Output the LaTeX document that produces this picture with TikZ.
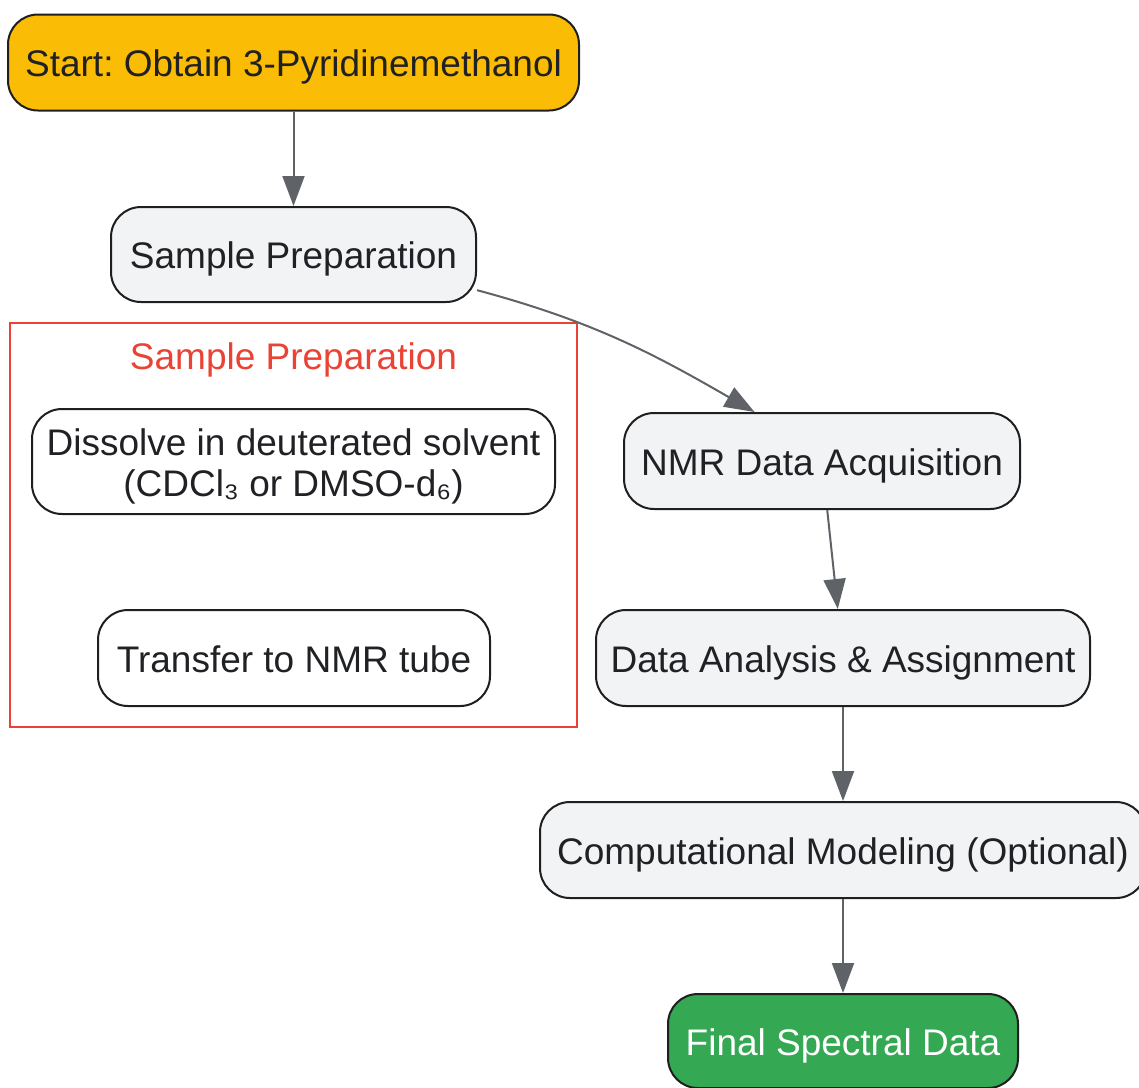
\documentclass[tikz,border=0pt]{standalone}
\usepackage{fontspec}
\setmainfont{Liberation Sans}
\frenchspacing
\usetikzlibrary{arrows.meta}
\definecolor{startc}{HTML}{FBBC05}
\definecolor{stepc}{HTML}{F1F3F4}
\definecolor{endc}{HTML}{34A853}
\definecolor{edgec}{HTML}{5F6368}
\definecolor{clusc}{HTML}{EA4335}
\definecolor{txtc}{HTML}{202124}
\begin{document}
\begin{tikzpicture}[x=0.5pt,y=-0.5pt,
  box/.style={draw=black!88, line width=1pt, rounded corners=15pt, fill=stepc, text=txtc,
    inner sep=0pt, minimum height=48pt, align=center, text height=17pt, text depth=3pt,
    font=\fontsize{18.5}{20.8}\selectfont},
  flow/.style={draw=edgec, line width=1pt, -{Triangle[length=15pt,width=11pt]}}]
\useasboundingbox (0,0) rectangle (1139,1087);
\node[box, fill=startc, minimum width=285.5pt] (st) at (293.5,62.5) {Start: Obtain 3-Pyridinemethanol};
\node[box, minimum width=182.5pt, minimum height=47.5pt] (sp) at (293.5,254.5) {Sample Preparation};
    \begin{scope}% cluster of the preparation steps
    \draw[clusc, line width=1pt] (10,323) rectangle (577,727);
    \node[text=clusc, text height=17pt, text depth=3pt, inner sep=0pt,
      font=\fontsize{18.5}{21}\selectfont] (cl) at (293.5,355) {Sample Preparation};
\node[box, fill=white, minimum width=261.5pt, minimum height=52.5pt, text height=38.2pt]
  (dis) at (293.5,461.5) {Dissolve in deuterated solvent\\(CDCl₃ or DMSO-d₆)};
\node[box, fill=white, minimum width=196pt] (tr) at (294,658) {Transfer to NMR tube};
    \end{scope}
\node[box, minimum width=198pt] (nmr) at (822,461) {NMR Data Acquisition};
\node[box, minimum width=247pt] (da) at (843,658) {Data Analysis \& Assignment};
\node[box, minimum width=303pt] (cm) at (843,850) {Computational Modeling (Optional)};
\node[box, fill=endc, text=white, minimum width=175pt, minimum height=47pt] (fin) at (843,1041) {Final Spectral Data};
\draw[flow] (st) -- (sp);
\draw[flow] (sp.-11) to[out=-15,in=150] (nmr.144);
\draw[flow] (nmr) -- (da);
\draw[flow] (da) -- (cm);
\draw[flow] (cm) -- (fin);
\end{tikzpicture}
\end{document}
